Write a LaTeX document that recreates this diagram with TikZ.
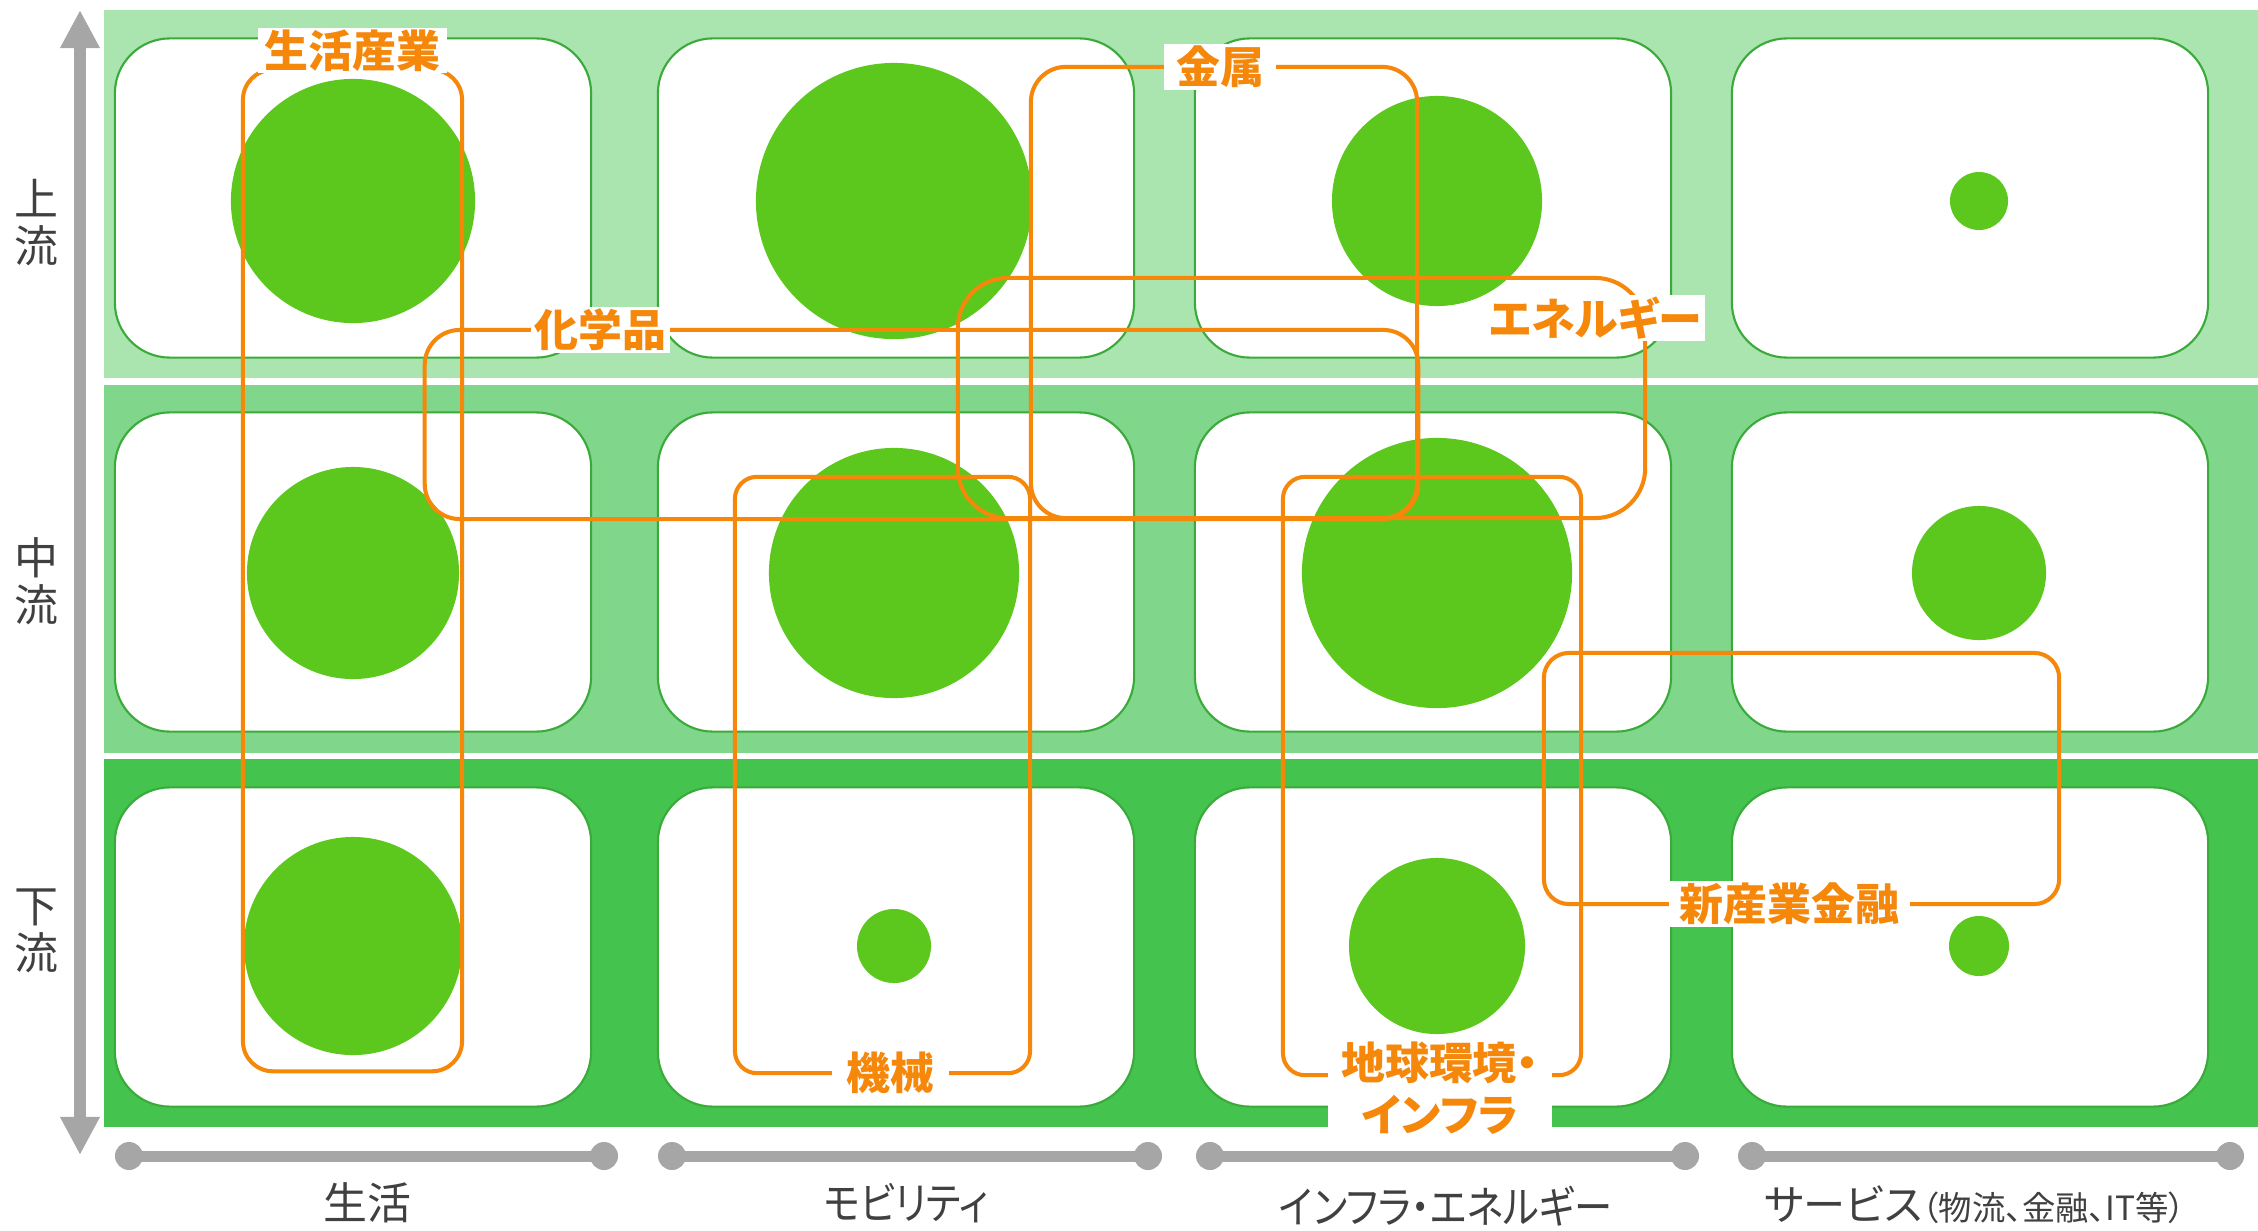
\documentclass[tikz,border=0pt]{standalone}
\usepackage{fontspec}
\setmainfont{Noto Sans CJK JP}[RawFeature=+palt]
\newfontfamily\narrowjp{Noto Sans CJK JP}[RawFeature=+palt, FakeStretch=0.87]
\usetikzlibrary{arrows.meta,positioning}
\definecolor{bandtop}{RGB}{170,229,176}
\definecolor{bandmid}{RGB}{128,214,138}
\definecolor{bandlow}{RGB}{68,196,78}
\definecolor{cellline}{RGB}{58,170,58}
\definecolor{blobgreen}{RGB}{92,199,28}
\definecolor{grporange}{RGB}{245,135,10}
\definecolor{axisgray}{RGB}{166,166,166}
\definecolor{textgray}{RGB}{64,64,64}

\begin{document}
\begin{tikzpicture}[x=0.01cm, y=-0.01cm,
    band/.style={rectangle, minimum width=21.54cm, minimum height=3.68cm,
        inner sep=0pt, outer sep=0pt, anchor=north west},
    cell/.style={rectangle, draw=cellline, line width=0.6pt, fill=white,
        rounded corners=0.55cm, minimum width=4.76cm, minimum height=3.19cm,
        inner sep=0pt, outer sep=0pt},
    blob/.style={circle, fill=blobgreen, inner sep=0pt, minimum size=#1},
    grp/.style={rectangle, draw=grporange, line width=1.15pt,
        inner sep=0pt, outer sep=0pt},
    grplbl/.style={fill=white, text=grporange, inner xsep=2pt, inner ysep=0.5pt,
        font=\fontsize{12.5}{15}\selectfont\bfseries},
    rowlbl/.style={text=textgray, align=center,
        font=\fontsize{12.5}{13.4}\selectfont},
    collbl/.style={text=textgray, font=\fontsize{12.5}{15}\selectfont},
    axis/.style={axisgray, line width=0.12cm}
]
    \useasboundingbox (0,0) rectangle (2258,1230);

    % === Bands: upstream / midstream / downstream ===
    \node[band, fill=bandtop] (bandU) at (104,10) {};
    \node[band, fill=bandmid] (bandM) at (104,385) {};
    \node[band, fill=bandlow] (bandD) at (104,759) {};

    % === Cells ===
    \node[cell] (c11) at (353,198) {};
    \node[cell] (c12) at (896,198) {};
    \node[cell] (c13) at (1433,198) {};
    \node[cell] (c14) at (1970,198) {};
    \node[cell] (c21) at (353,572) {};
    \node[cell] (c22) at (896,572) {};
    \node[cell] (c23) at (1433,572) {};
    \node[cell] (c24) at (1970,572) {};
    \node[cell] (c31) at (353,947) {};
    \node[cell] (c32) at (896,947) {};
    \node[cell] (c33) at (1433,947) {};
    \node[cell] (c34) at (1970,947) {};

    % === Bubbles ===
    \node[blob=2.44cm] (b11) at (353,201) {};
    \node[blob=2.76cm] (b12) at (894,201) {};
    \node[blob=2.10cm] (b13) at (1437,201) {};
    \node[blob=0.58cm] (b14) at (1979,201) {};
    \node[blob=2.12cm] (b21) at (353,573) {};
    \node[blob=2.50cm] (b22) at (894,573) {};
    \node[blob=2.70cm] (b23) at (1437,573) {};
    \node[blob=1.34cm] (b24) at (1979,573) {};
    \node[blob=2.18cm] (b31) at (353,946) {};
    \node[blob=0.74cm] (b32) at (894,946) {};
    \node[blob=1.76cm] (b33) at (1437,946) {};
    \node[blob=0.60cm] (b34) at (1979,946) {};

    % === Industry groups ===
    \node[grp, rounded corners=0.3cm, minimum width=2.19cm, minimum height=10.01cm]
        (seikatsu) at (352.5,570.5) {};
    \node[grp, rounded corners=0.35cm, minimum width=9.93cm, minimum height=1.89cm]
        (kagaku) at (921.5,424.5) {};
    \node[grp, rounded corners=0.35cm, minimum width=3.86cm, minimum height=4.51cm]
        (kinzoku) at (1224,292.5) {};
    \node[grp, rounded corners=0.5cm, minimum width=6.87cm, minimum height=2.40cm]
        (energy) at (1301.5,398) {};
    \node[grp, rounded corners=0.22cm, minimum width=2.95cm, minimum height=5.96cm]
        (kikai) at (882.5,775) {};
    \node[grp, rounded corners=0.22cm, minimum width=2.98cm, minimum height=5.98cm]
        (chikyu) at (1432,776) {};
    \node[grp, rounded corners=0.25cm, minimum width=5.15cm, minimum height=2.51cm]
        (shin) at (1801.5,778.5) {};

    % group labels
    \node[grplbl, above=-0.04cm of seikatsu.north] (seikatsuL) {生活産業};
    \node[grplbl, inner xsep=1pt] (kagakuL) at ([xshift=1.76cm]kagaku.north west) {化学品};
    \node[grplbl, inner xsep=3.5pt] (kinzokuL) at ([xshift=-0.04cm]kinzoku.north) {金属};
    \node[grplbl, inner xsep=1pt] (energyL) at ([xshift=-0.5cm, yshift=-0.4cm]energy.north east) {エネルギー};
    \node[grplbl, inner xsep=4pt] (kikaiL) at ([xshift=0.08cm]kikai.south) {機械};
    \node[grplbl, align=center, minimum width=2.23cm, inner ysep=0pt]
        (chikyuL) at ([xshift=0.08cm, yshift=-0.13cm]chikyu.south) {地球環境・\\インフラ};
    \node[grplbl, inner xsep=3pt] (shinL) at ([xshift=-0.12cm]shin.south) {新産業金融};

    % === Vertical axis ===
    \draw[axis, {Triangle[length=0.38cm, width=0.37cm]}-{Triangle[length=0.38cm, width=0.37cm]}]
        (80,1155) -- (80,10);
    \node[rowlbl] (upL) at (36,223) {上\\流};
    \node[rowlbl] (midL) at (36,581) {中\\流};
    \node[rowlbl] (downL) at (36,931) {下\\流};

    % === Horizontal axis ===
    \foreach \xa/\xb in {129/604, 672/1148, 1210/1685, 1752/2230} {
        \draw[axis, line width=0.11cm] (\xa,1156) -- (\xb,1156);
        \fill[axisgray] (\xa,1156) circle (0.14cm) (\xb,1156) circle (0.14cm);
    }
    \node[collbl] (seikatsuX) at (367,1203) {生活};
    \node[collbl] (mobilityX) at (906,1203) {\narrowjp モビリティ};
    \node[collbl] (infraX) at (1446,1206) {\narrowjp インフラ・エネルギー};
    \node[collbl] (serviceX) at (1975,1205)
        {\fontsize{12}{14}\selectfont サービス{\fontsize{9.5}{12}\selectfont（物流、金融、IT等）}};
\end{tikzpicture}
\end{document}
